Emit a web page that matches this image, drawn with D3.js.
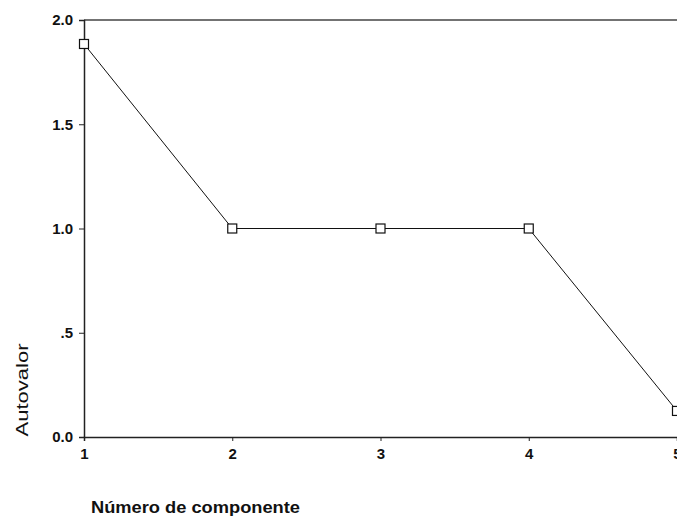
<!DOCTYPE html>
<html>
<head>
<meta charset="utf-8">
<script src="https://cdn.jsdelivr.net/npm/d3@7"></script>
<style>
  body { margin: 0; background: #fff; }
  svg { display: block; font-family: "Liberation Sans", Arial, sans-serif; }
</style>
</head>
<body>
<script>
var components = [1, 2, 3, 4, 5];
var eigenvalues = [1.885, 1.0, 1.0, 1.0, 0.125];
var yTicks = [0, 0.5, 1.0, 1.5, 2.0];
var yTickLabels = ["0.0", ".5", "1.0", "1.5", "2.0"];

var W = 677, H = 520;
var plotL = 84, plotR = 677, plotT = 20, plotB = 437;

var svg = d3.select("body").append("svg")
    .attr("width", W).attr("height", H);

var x = d3.scaleLinear().domain([1, 5]).range([plotL, plotR]);
var y = d3.scaleLinear().domain([0, 2]).range([plotB, plotT]);

// top border of the frame
svg.append("line")
  .attr("x1", plotL).attr("x2", plotR)
  .attr("y1", plotT).attr("y2", plotT)
  .style("stroke", "#444").style("stroke-width", 1.5);

var yAxis = d3.axisLeft(y).tickValues(yTicks)
  .tickFormat(function(d, i) { return yTickLabels[i]; })
  .tickSize(5).tickPadding(6);
var gy = svg.append("g").attr("transform", "translate(" + plotL + ",0)").call(yAxis);
gy.select(".domain").style("stroke", "#222").style("stroke-width", 1.5);
gy.selectAll(".tick line").style("stroke", "#222");
gy.selectAll("text").style("font-size", "15px").style("font-weight", "bold").attr("fill", "#111");

var xAxis = d3.axisBottom(x).tickValues(components)
  .tickFormat(d3.format("d")).tickSize(4).tickPadding(7);
var gx = svg.append("g").attr("transform", "translate(0," + plotB + ")").call(xAxis);
gx.select(".domain").style("stroke", "#222").style("stroke-width", 1.5);
gx.selectAll(".tick line").style("stroke", "#222");
gx.selectAll("text").style("font-size", "15px").style("font-weight", "bold").attr("fill", "#111");

var pts = components.map(function(c, i) { return [c, eigenvalues[i]]; });

svg.append("path")
  .datum(pts)
  .attr("fill", "none").attr("stroke", "#111").attr("stroke-width", 1)
  .attr("d", d3.line().x(function(d) { return x(d[0]); }).y(function(d) { return y(d[1]); }));

var s = 9;
svg.selectAll("rect.marker").data(pts).enter().append("rect")
  .attr("class", "marker")
  .attr("x", function(d) { return x(d[0]) - s / 2; })
  .attr("y", function(d) { return y(d[1]) - s / 2; })
  .attr("width", s).attr("height", s)
  .attr("fill", "#fff").attr("stroke", "#111").attr("stroke-width", 1.2);

svg.append("text")
  .attr("transform", "translate(28,390) rotate(-90)")
  .attr("text-anchor", "middle")
  .attr("textLength", 93).attr("lengthAdjust", "spacingAndGlyphs")
  .style("font-size", "17px").attr("fill", "#111")
  .text("Autovalor");

svg.append("text")
  .attr("x", 91).attr("y", 513)
  .attr("textLength", 209).attr("lengthAdjust", "spacingAndGlyphs")
  .style("font-size", "16px").style("font-weight", "bold").attr("fill", "#111")
  .text("Número de componente");
</script>
</body>
</html>
